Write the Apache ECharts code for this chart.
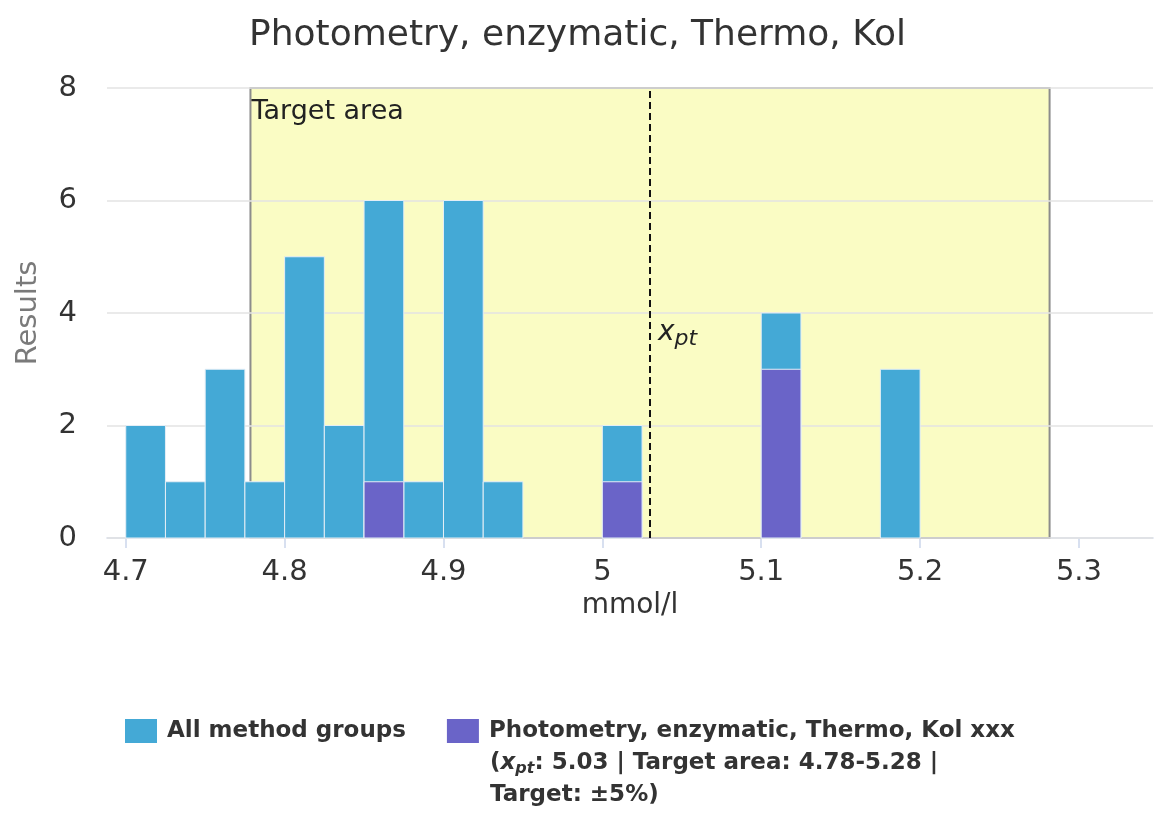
<!DOCTYPE html>
<html>
<head>
<meta charset="utf-8">
<script src="https://cdn.jsdelivr.net/npm/echarts@6/dist/echarts.min.js"></script>
<style>
  html, body { margin: 0; padding: 0; background: #fff; }
  #chart { width: 1155px; height: 814px; }
</style>
</head>
<body>
<div id="chart"></div>
<script>
// histogram bins (left edge), width 0.025 mmol/l
const binWidth = 0.025
const allStarts = [4.7, 4.725, 4.75, 4.775, 4.8, 4.825, 4.85, 4.875, 4.9, 4.925, 5.0, 5.1, 5.175]
const allCounts = [2, 1, 3, 1, 5, 2, 6, 1, 6, 1, 2, 4, 3]
const groupStarts = [4.85, 5.0, 5.1]
const groupCounts = [1, 1, 3]
const xTicks = [4.7, 4.8, 4.9, 5.0, 5.1, 5.2, 5.3]
const xpt = 5.03
// xpt +/- 5%
const targetArea = [4.7785, 5.2815]

const font = 'DejaVu Sans'
const blue = '#44a9d6'
const purple = '#6a64c8'

const chart = echarts.init(document.getElementById('chart'))

const renderBin = (color) => (params, api) => {
  const start = api.value(0)
  const count = api.value(1)
  const p0 = api.coord([start, count])
  const p1 = api.coord([start + binWidth, 0])
  return {
    type: 'rect',
    shape: { x: p0[0], y: p0[1], width: p1[0] - p0[0], height: p1[1] - p0[1] },
    style: { fill: color, stroke: '#e4eef6', lineWidth: 1 }
  }
}

const option = {
  animation: false,
  color: [blue, purple],
  title: {
    text: 'Photometry, enzymatic, Thermo, Kol',
    left: 'center',
    top: 13,
    textStyle: { fontFamily: font, fontSize: 36, fontWeight: 'normal', color: '#333' }
  },
  grid: { left: 107, right: 2, top: 88, bottom: 276, outerBoundsMode: 'none', containLabel: false },
  xAxis: {
    type: 'value',
    min: 4.6882,
    max: 5.3466,
    name: 'mmol/l',
    nameLocation: 'middle',
    nameGap: 50,
    nameTextStyle: { fontFamily: font, fontSize: 28, color: '#333' },
    axisLine: { lineStyle: { color: '#ccd6eb', width: 1.5 } },
    axisTick: { customValues: xTicks, length: 10, lineStyle: { color: '#ccd6eb', width: 1.5 } },
    axisLabel: {
      customValues: xTicks,
      margin: 20,
      fontFamily: font,
      fontSize: 29,
      color: '#333'
    },
    splitLine: { show: false }
  },
  yAxis: {
    type: 'value',
    min: 0,
    max: 8,
    interval: 2,
    z: 2,
    name: 'Results',
    nameLocation: 'middle',
    nameGap: 64,
    nameRotate: 90,
    nameTextStyle: { fontFamily: font, fontSize: 29, color: '#7a7a7a' },
    axisLine: { show: false },
    axisTick: { show: false },
    axisLabel: { margin: 30, fontFamily: font, fontSize: 29, color: '#333' },
    splitLine: { lineStyle: { color: '#e3e3e3', width: 1.5 } }
  },
  legend: {
    data: ['All method groups', 'Photometry, enzymatic, Thermo, Kol xxx'],
    left: 120,
    top: 714,
    icon: 'rect',
    itemWidth: 32,
    itemHeight: 24,
    itemGap: 41,
    selectedMode: false,
    textStyle: { fontFamily: font, fontSize: 23, fontWeight: 'bold', color: '#333', padding: [0, 0, 0, 5] }
  },
  graphic: [
    {
      type: 'text',
      left: 490,
      top: 747,
      style: {
        text: '({xi|x}{sub|pt}: 5.03 | Target area: 4.78-5.28 |\nTarget: ±5%)',
        fontFamily: font,
        fontSize: 23,
        fontWeight: 'bold',
        fill: '#333',
        lineHeight: 32,
        rich: {
          xi: { fontFamily: font, fontSize: 23, fontWeight: 'bold', fontStyle: 'italic', fill: '#333' },
          sub: { fontFamily: font, fontSize: 16, fontWeight: 'bold', fontStyle: 'italic', fill: '#333', padding: [12, 0, 0, 0] }
        }
      }
    }
  ],
  series: [
    {
      name: 'target',
      type: 'line',
      data: [],
      z: 1,
      silent: true,
      markArea: {
        silent: true,
        itemStyle: { color: '#fafcc4', borderColor: '#8c8c8c', borderWidth: 2 },
        label: {
          show: true,
          position: 'insideTopLeft',
          distance: 6,
          offset: [-4, 5],
          fontFamily: font,
          fontSize: 27,
          color: '#222'
        },
        data: [[{ name: 'Target area', xAxis: targetArea[0], yAxis: 8 }, { xAxis: targetArea[1], yAxis: 0 }]]
      }
    },
    {
      name: 'All method groups',
      type: 'custom',
      z: 3,
      itemStyle: { color: blue },
      encode: { x: 0, y: 1 },
      renderItem: renderBin(blue),
      data: allStarts.map((s, i) => [s, allCounts[i]])
    },
    {
      name: 'Photometry, enzymatic, Thermo, Kol xxx',
      type: 'custom',
      z: 4,
      itemStyle: { color: purple },
      encode: { x: 0, y: 1 },
      renderItem: renderBin(purple),
      data: groupStarts.map((s, i) => [s, groupCounts[i]]),
      markLine: {
        silent: true,
        symbol: 'none',
        lineStyle: { color: '#111', type: [7, 4], width: 2 },
        label: { show: false },
        data: [[{ xAxis: xpt, yAxis: 0 }, { xAxis: xpt, yAxis: 8 }]]
      },
      markPoint: {
        silent: true,
        symbol: 'circle',
        symbolSize: 0,
        label: {
          show: true,
          position: 'right',
          distance: 8,
          formatter: '{xi|x}{sub|pt}',
          rich: {
            xi: { fontFamily: font, fontSize: 28, fontStyle: 'italic', color: '#222' },
            sub: { fontFamily: font, fontSize: 22, fontStyle: 'italic', color: '#222', padding: [14, 0, 0, 0] }
          }
        },
        data: [{ coord: [xpt, 3.65] }]
      }
    }
  ]
}

chart.setOption(option)
window.addEventListener('resize', () => chart.resize())
</script>
</body>
</html>
